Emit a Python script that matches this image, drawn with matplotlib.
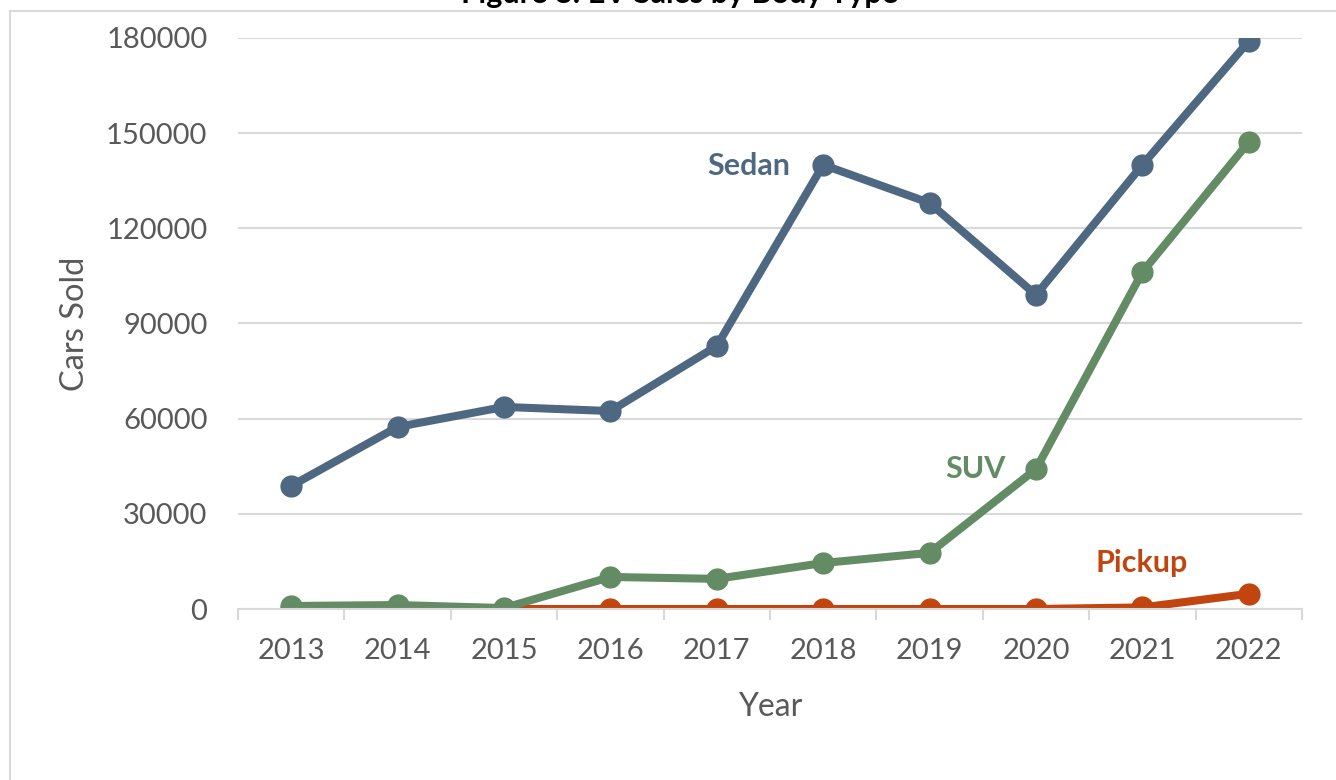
import numpy as np
import matplotlib
matplotlib.use("Agg")
import matplotlib.pyplot as plt
from matplotlib.lines import Line2D


years = ["2013", "2014", "2015", "2016", "2017", "2018", "2019", "2020", "2021", "2022"]
sedan = [38800, 57400, 63700, 62400, 82900, 140000, 128000, 99000, 140000, 179000]
suv = [950, 1250, 300, 10100, 9500, 14500, 17700, 44100, 106200, 147200]
pickup = [0, 0, 0, 0, 0, 0, 0, 0, 500, 4800]

series = [
    ("Sedan", sedan, "#4E6882", (4.3, 139600)),
    ("SUV", suv, "#638C65", (6.43, 44100)),
    ("Pickup", pickup, "#C2440E", (7.99, 14500)),
]

plt.rcParams["font.family"] = ["Lato", "DejaVu Sans"]

fig = plt.figure(figsize=(13.36, 7.8), dpi=100)
ax = fig.add_axes([238 / 1336, 1 - 609 / 780, 1064 / 1336, 571 / 780])

x = np.arange(len(years))
# pickup drawn first so it sits under the others
for name, vals, col, lab in series[::-1]:
    ax.plot(x, vals, color=col, linewidth=5.8, marker="o", markersize=15,
            solid_capstyle="round", solid_joinstyle="round")
for name, vals, col, lab in series:
    ax.text(lab[0], lab[1], name, color=col, fontsize=22, fontweight="bold",
            ha="center", va="center")

ax.set_xlim(-0.5, len(years) - 0.5)
ax.set_ylim(0, 180000)
ax.set_yticks(np.arange(0, 180001, 30000))
ax.set_yticklabels([str(v) for v in range(0, 180001, 30000)])
ax.set_xticks(x)
ax.set_xticklabels(years)
ax.set_xticks(np.arange(-0.5, len(years), 1), minor=True)

ax.tick_params(axis="y", length=0, pad=22, labelsize=21, labelcolor="#595959")
ax.tick_params(axis="x", which="major", length=0, pad=21, labelsize=21,
               labelcolor="#595959")
ax.tick_params(axis="x", which="minor", length=8, width=1.5, color="#D9D9D9")

ax.grid(axis="y", color="#D9D9D9", linewidth=1.5)
ax.set_axisbelow(True)
for s in ["top", "right", "left"]:
    ax.spines[s].set_visible(False)
ax.spines["bottom"].set_color("#D9D9D9")
ax.spines["bottom"].set_linewidth(1.5)

ax.set_ylabel("Cars Sold", fontsize=23.5, color="#595959", va="center")
ax.yaxis.set_label_coords(-0.153, 0.5)
ax.set_xlabel("Year", fontsize=23, color="#595959", va="center")
ax.xaxis.set_label_coords(0.5, -0.172)

# chart frame (cropped at right and bottom)
fig.add_artist(Line2D([10 / 1336, 10 / 1336], [0, 1 - 10.5 / 780],
                      transform=fig.transFigure, color="#D9D9D9", linewidth=1.5))
fig.add_artist(Line2D([10 / 1336, 1], [1 - 10.5 / 780, 1 - 10.5 / 780],
                      transform=fig.transFigure, color="#D9D9D9", linewidth=1.5))

fig.text(680 / 1336, 1 - 3 / 780, "Figure 8: EV Sales by Body Type", fontsize=22,
         fontweight="bold", color="black", ha="center", va="baseline")

fig.savefig("out.png", dpi=100)
